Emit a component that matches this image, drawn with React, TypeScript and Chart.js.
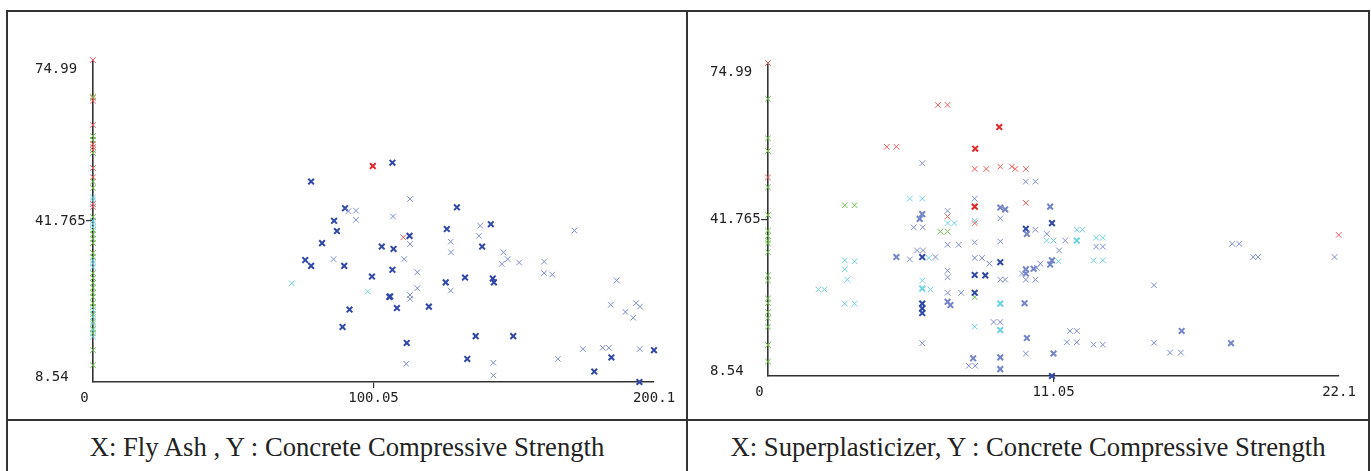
import React, { useEffect, useRef } from "react";
import { Chart, registerables } from "chart.js";

Chart.register(...registerables);

// ---------- tick values / labels ----------
const Y_TICK_VALUES = [8.54, 41.765, 74.99];
const Y_TICK_LABELS = ["8.54", "41.765", "74.99"];
const FA_X_TICK_VALUES = [0, 100.05, 200.1];
const FA_X_TICK_LABELS = ["0", "100.05", "200.1"];
const SP_X_TICK_VALUES = [0, 11.05, 22.1];
const SP_X_TICK_LABELS = ["0", "11.05", "22.1"];

const CAPTION_LEFT = "X: Fly Ash , Y : Concrete Compressive Strength";
const CAPTION_RIGHT = "X: Superplasticizer, Y : Concrete Compressive Strength";

// ---------- Fly Ash vs strength ----------
const FA_RED: [number, number][] = [
  [0, 74.99], [0, 67.2], [0, 66.6], [0, 61.6], [0, 57.6], [0, 57.0], [0, 56.4],
  [0, 52.7], [0, 50.8], [0, 45.3], [0, 44.7], [0, 42.6], [110.7, 38.4],
];
const FA_RED_DARK: [number, number][] = [[99.8, 53.1]];
const FA_GREEN: [number, number][] = [
  [0, 67.4], [0, 59.3], [0, 58.5], [0, 55.8], [0, 49.9], [0, 48.6], [0, 42.6],
  [0, 39.9], [0, 39.0], [0, 38.1], [0, 37.2], [0, 35.2], [0, 34.3], [0, 31.0],
  [0, 30.0], [0, 29.0], [0, 28.0], [0, 27.0], [0, 26.1], [0, 24.8], [0, 24.0],
  [0, 22.5], [0, 21.0], [0, 19.5], [0, 18.6], [0, 15.1], [0, 12.0],
];
const FA_CYAN: [number, number][] = [
  [0, 46.6], [0, 46.0], [0, 41.8], [0, 41.2], [0, 40.5], [0, 33.6], [0, 33.0],
  [0, 32.2], [0, 23.4], [0, 22.0], [0, 20.6], [0, 19.2], [0, 17.9],
  [70.9, 28.9], [98.0, 27.2],
];
const FA_BLUE_DARK: [number, number][] = [
  [77.8, 49.9], [106.8, 53.8], [89.9, 44.4], [86.0, 41.8], [87.0, 39.7], [81.7, 37.2],
  [103.0, 36.5], [107.2, 36.0], [75.7, 33.7], [77.8, 32.5], [89.6, 32.5], [106.8, 31.7],
  [99.5, 30.3], [105.7, 26.1], [108.4, 23.8], [91.5, 23.5], [89.0, 19.9], [129.8, 44.6],
  [141.9, 41.1], [126.2, 40.1], [112.9, 38.7], [138.8, 36.5], [132.7, 30.1], [125.8, 29.1],
  [142.6, 29.9], [143.0, 29.1], [106.0, 26.2], [119.8, 24.1], [111.9, 16.6], [136.5, 18.0],
  [149.9, 18.0], [200.1, 15.1], [184.9, 13.6], [133.5, 13.3], [178.8, 10.7], [194.9, 8.54],
];
const FA_BLUE_LIGHT: [number, number][] = [
  [91.1, 43.8], [93.8, 43.9], [93.8, 42.0], [107.0, 42.7], [85.8, 33.9], [113.1, 46.3],
  [138.1, 40.8], [137.7, 38.7], [127.6, 37.5], [113.1, 37.0], [127.7, 35.3], [146.4, 35.3],
  [111.0, 33.9], [147.9, 33.9], [145.8, 32.9], [152.0, 33.2], [160.9, 33.4], [171.7, 39.8],
  [115.7, 31.2], [160.9, 31.0], [163.8, 30.7], [127.6, 27.4], [115.7, 27.9], [186.8, 29.5],
  [113.1, 26.5], [113.1, 25.7], [184.7, 24.5], [189.9, 23.0], [193.7, 24.8], [195.1, 24.1],
  [192.7, 21.8], [174.7, 15.35], [181.8, 15.6], [184.0, 15.6], [195.0, 15.35], [111.7, 12.3],
  [142.8, 12.5], [165.8, 13.3], [142.8, 9.9],
];

// ---------- Superplasticizer vs strength ----------
const SP_RED: [number, number][] = [
  [0, 74.99], [0, 50.7], [6.58, 66.1], [6.95, 66.1], [4.6, 57.2], [4.97, 57.2],
  [8.0, 52.5], [8.45, 52.5], [8.99, 53.0], [9.44, 53.0], [9.57, 52.5], [9.98, 52.5],
  [9.98, 45.3], [6.95, 42.4], [8.0, 41.0], [22.09, 38.5],
];
const SP_RED_DARK: [number, number][] = [[8.95, 61.4], [8.02, 56.8], [8.0, 44.5]];
const SP_GREEN: [number, number][] = [
  [0, 67.4], [0, 59.0], [0, 56.3], [0, 48.6], [0, 42.7], [0, 39.4], [0, 38.3],
  [0, 37.3], [0, 36.7], [0, 34.8], [0, 29.9], [0, 28.8], [0, 25.0], [0, 24.0],
  [0, 22.1], [0, 20.8], [0, 19.0], [0, 15.1], [0, 11.6],
  [2.97, 44.8], [3.35, 44.8], [6.67, 39.2], [6.95, 39.2], [8.0, 25.3],
];
const SP_CYAN: [number, number][] = [
  [5.49, 46.2], [5.97, 46.2], [6.95, 41.0], [7.21, 41.0], [8.0, 41.5], [11.95, 39.6],
  [12.17, 39.6], [10.79, 37.3], [11.05, 37.3], [12.7, 37.9], [12.96, 37.9], [12.6, 33.1],
  [12.96, 33.1], [11.24, 32.9], [6.22, 33.6], [2.97, 33.1], [3.35, 32.9], [2.97, 31.2],
  [3.07, 29.0], [5.97, 28.8], [6.29, 26.9], [1.95, 26.9], [2.19, 26.9], [2.97, 23.9],
  [3.35, 23.9], [8.0, 19.0],
];
const SP_CYAN_DENSE: [number, number][] = [[11.95, 37.3], [5.97, 27.1], [8.99, 23.9], [8.99, 18.3]];
const SP_BLUE_LIGHT: [number, number][] = [
  [5.97, 53.7], [9.98, 49.8], [10.35, 49.8], [8.0, 46.2], [6.95, 43.6], [8.99, 42.0],
  [5.64, 40.1], [5.99, 40.1], [10.35, 39.6], [10.79, 38.7], [6.95, 36.4], [7.38, 36.4],
  [8.0, 36.9], [8.99, 37.1], [11.5, 37.3], [5.77, 35.2], [6.0, 35.2], [5.49, 33.3],
  [6.48, 33.8], [8.0, 33.6], [8.28, 33.6], [8.57, 32.4], [11.27, 35.2], [10.54, 32.4],
  [6.95, 30.9], [6.95, 29.5], [9.83, 30.3], [8.99, 29.0], [9.18, 29.0], [9.98, 29.0],
  [10.35, 29.0], [6.95, 26.2], [7.48, 26.2], [8.73, 20.0], [8.99, 20.0], [5.97, 15.5],
  [9.98, 13.3], [7.77, 10.7], [8.02, 10.7], [11.69, 18.1], [11.95, 18.1], [11.57, 15.7],
  [11.95, 15.7], [12.7, 36.0], [12.96, 36.0], [14.94, 27.8], [17.97, 36.6], [18.24, 36.6],
  [18.78, 33.8], [18.97, 33.8], [21.93, 33.8], [12.6, 15.2], [12.96, 15.2], [14.94, 15.6],
  [15.56, 13.5], [15.98, 13.5], [10.4, 31.5],
];
const SP_BLUE_DENSE: [number, number][] = [
  [8.99, 44.3], [9.18, 43.9], [10.92, 44.5], [5.97, 42.9], [5.87, 41.9], [10.02, 38.7],
  [4.97, 33.8], [10.92, 32.2], [10.99, 33.1], [10.28, 31.3], [9.98, 30.3], [9.98, 31.2],
  [6.95, 24.3], [7.06, 23.6], [9.93, 24.0], [10.02, 16.6], [8.99, 12.5], [11.05, 13.3],
  [7.94, 12.3], [8.99, 10.0], [16.01, 18.1], [17.92, 15.5],
];
const SP_BLUE_DARK: [number, number][] = [
  [10.99, 41.0], [9.98, 39.8], [5.97, 33.8], [8.99, 32.7], [8.0, 30.0], [8.41, 29.9],
  [8.0, 26.2], [5.97, 23.9], [5.97, 22.9], [5.97, 21.9], [10.99, 8.54],
];

// ---------- styles ----------
const COLORS = {
  red: "#f25c5c",
  redDark: "#e32626",
  green: "#6cc24a",
  cyan: "#6fd2e2",
  blueLight: "#7d8dd0",
  blueDense: "#7384c9",
  blueDark: "#2f47a6",
  axis: "#333333",
  text: "#222222",
};

type Series = { pts: [number, number][]; color: string; width: number };

function ds(s: Series) {
  return {
    data: s.pts.map(([x, y]) => ({ x, y })),
    borderColor: s.color,
    backgroundColor: s.color,
    pointStyle: "crossRot" as const,
    pointRadius: 4,
    pointBorderWidth: s.width,
    borderWidth: s.width,
    showLine: false,
    clip: false as any,
  };
}

const labelPlugin = (xLabels: string[]) => ({
  id: "wekaLabels",
  afterDraw(chart: any) {
    const { ctx, chartArea, scales } = chart;
    ctx.save();
    ctx.font = '14px "DejaVu Sans Mono"';
    ctx.fillStyle = COLORS.text;
    ctx.textBaseline = "middle";
    const ys = scales.y;
    ys.ticks.forEach((t: any, i: number) => {
      const py = ys.getPixelForValue(t.value);
      const off = i === 0 ? -4.5 : i === ys.ticks.length - 1 ? 9.5 : 0;
      ctx.textAlign = "left";
      ctx.fillText(Y_TICK_LABELS[i], chartArea.left - 58, py + off);
    });
    const xs = scales.x;
    xs.ticks.forEach((t: any, i: number) => {
      const px = xs.getPixelForValue(t.value);
      const off = i === 0 ? -8.5 : 0;
      ctx.textAlign = "center";
      ctx.fillText(xLabels[i], px + off, chartArea.bottom + 16);
    });
    ctx.restore();
  },
});

function Panel(props: {
  series: Series[];
  xMax: number;
  xTicks: number[];
  xLabels: string[];
  width: number;
  height: number;
  padding: { left: number; right: number; top: number; bottom: number };
}) {
  const ref = useRef<HTMLCanvasElement | null>(null);
  useEffect(() => {
    if (!ref.current) return;
    const tickColor = (c: any) => (c.index === 1 ? COLORS.axis : "rgba(0,0,0,0)");
    const chart = new Chart(ref.current, {
      type: "scatter",
      data: { datasets: props.series.map(ds) as any },
      options: {
        responsive: false,
        animation: false,
        events: [],
        layout: { padding: props.padding },
        plugins: { legend: { display: false }, tooltip: { enabled: false } },
        scales: {
          x: {
            type: "linear",
            min: 0,
            max: props.xMax,
            afterBuildTicks: (s: any) => {
              s.ticks = props.xTicks.map((v) => ({ value: v }));
            },
            afterFit: (s: any) => {
              s.height = 10;
            },
            ticks: { display: false },
            grid: {
              display: true,
              drawOnChartArea: false,
              drawTicks: true,
              tickLength: 6,
              color: tickColor,
              lineWidth: 1.2,
            },
            border: { display: true, color: COLORS.axis, width: 1.6 },
          },
          y: {
            type: "linear",
            min: Y_TICK_VALUES[0],
            max: Y_TICK_VALUES[Y_TICK_VALUES.length - 1],
            afterBuildTicks: (s: any) => {
              s.ticks = Y_TICK_VALUES.map((v) => ({ value: v }));
            },
            afterFit: (s: any) => {
              s.width = 10;
            },
            ticks: { display: false },
            grid: {
              display: true,
              drawOnChartArea: false,
              drawTicks: true,
              tickLength: 7,
              color: tickColor,
              lineWidth: 1.2,
            },
            border: { display: true, color: COLORS.axis, width: 1.6 },
          },
        },
      } as any,
      plugins: [labelPlugin(props.xLabels)],
    });
    return () => chart.destroy();
  }, []);
  return <canvas ref={ref} width={props.width} height={props.height} style={{ display: "block" }} />;
}

const line = (l: number, t: number, w: number, h: number) => (
  <div style={{ position: "absolute", left: l, top: t, width: w, height: h, background: COLORS.axis }} />
);

export default function App() {
  const leftSeries: Series[] = [
    { pts: FA_BLUE_LIGHT, color: COLORS.blueLight, width: 1 },
    { pts: FA_BLUE_DARK, color: COLORS.blueDark, width: 2 },
    { pts: FA_CYAN, color: COLORS.cyan, width: 1 },
    { pts: FA_GREEN, color: COLORS.green, width: 1 },
    { pts: FA_RED, color: COLORS.red, width: 1 },
    { pts: FA_RED_DARK, color: COLORS.redDark, width: 2 },
  ];
  const rightSeries: Series[] = [
    { pts: SP_BLUE_LIGHT, color: COLORS.blueLight, width: 1 },
    { pts: SP_BLUE_DENSE, color: COLORS.blueDense, width: 2 },
    { pts: SP_BLUE_DARK, color: COLORS.blueDark, width: 2 },
    { pts: SP_CYAN, color: COLORS.cyan, width: 1 },
    { pts: SP_CYAN_DENSE, color: COLORS.cyan, width: 2 },
    { pts: SP_GREEN, color: COLORS.green, width: 1 },
    { pts: SP_RED, color: COLORS.red, width: 1 },
    { pts: SP_RED_DARK, color: COLORS.redDark, width: 2 },
  ];
  const captionStyle = (left: number, width: number): React.CSSProperties => ({
    position: "absolute",
    left,
    top: 434,
    width,
    textAlign: "center",
    fontFamily: '"Liberation Serif", "Times New Roman", serif',
    fontSize: 26.7,
    lineHeight: "27px",
    color: "#222",
    whiteSpace: "nowrap",
  });
  return (
    <div style={{ position: "fixed", left: 0, top: 0, width: 1371, height: 471, background: "#fff", overflow: "hidden" }}>
      <div style={{ position: "absolute", left: 8, top: 12 }}>
        <Panel
          series={leftSeries}
          xMax={FA_X_TICK_VALUES[2]}
          xTicks={FA_X_TICK_VALUES}
          xLabels={FA_X_TICK_LABELS}
          width={678}
          height={407}
          padding={{ left: 75, right: 32, top: 48, bottom: 27 }}
        />
      </div>
      <div style={{ position: "absolute", left: 688, top: 12 }}>
        <Panel
          series={rightSeries}
          xMax={SP_X_TICK_VALUES[2]}
          xTicks={SP_X_TICK_VALUES}
          xLabels={SP_X_TICK_LABELS}
          width={680}
          height={407}
          padding={{ left: 70, right: 29, top: 51, bottom: 33 }}
        />
      </div>
      {line(6, 10, 1364, 2)}
      {line(6, 10, 2, 470)}
      {line(686, 10, 2, 470)}
      {line(1368, 10, 2, 470)}
      {line(6, 419, 1364, 2)}
      <div style={captionStyle(8, 678)}>{CAPTION_LEFT}</div>
      <div style={captionStyle(688, 680)}>{CAPTION_RIGHT}</div>
    </div>
  );
}
